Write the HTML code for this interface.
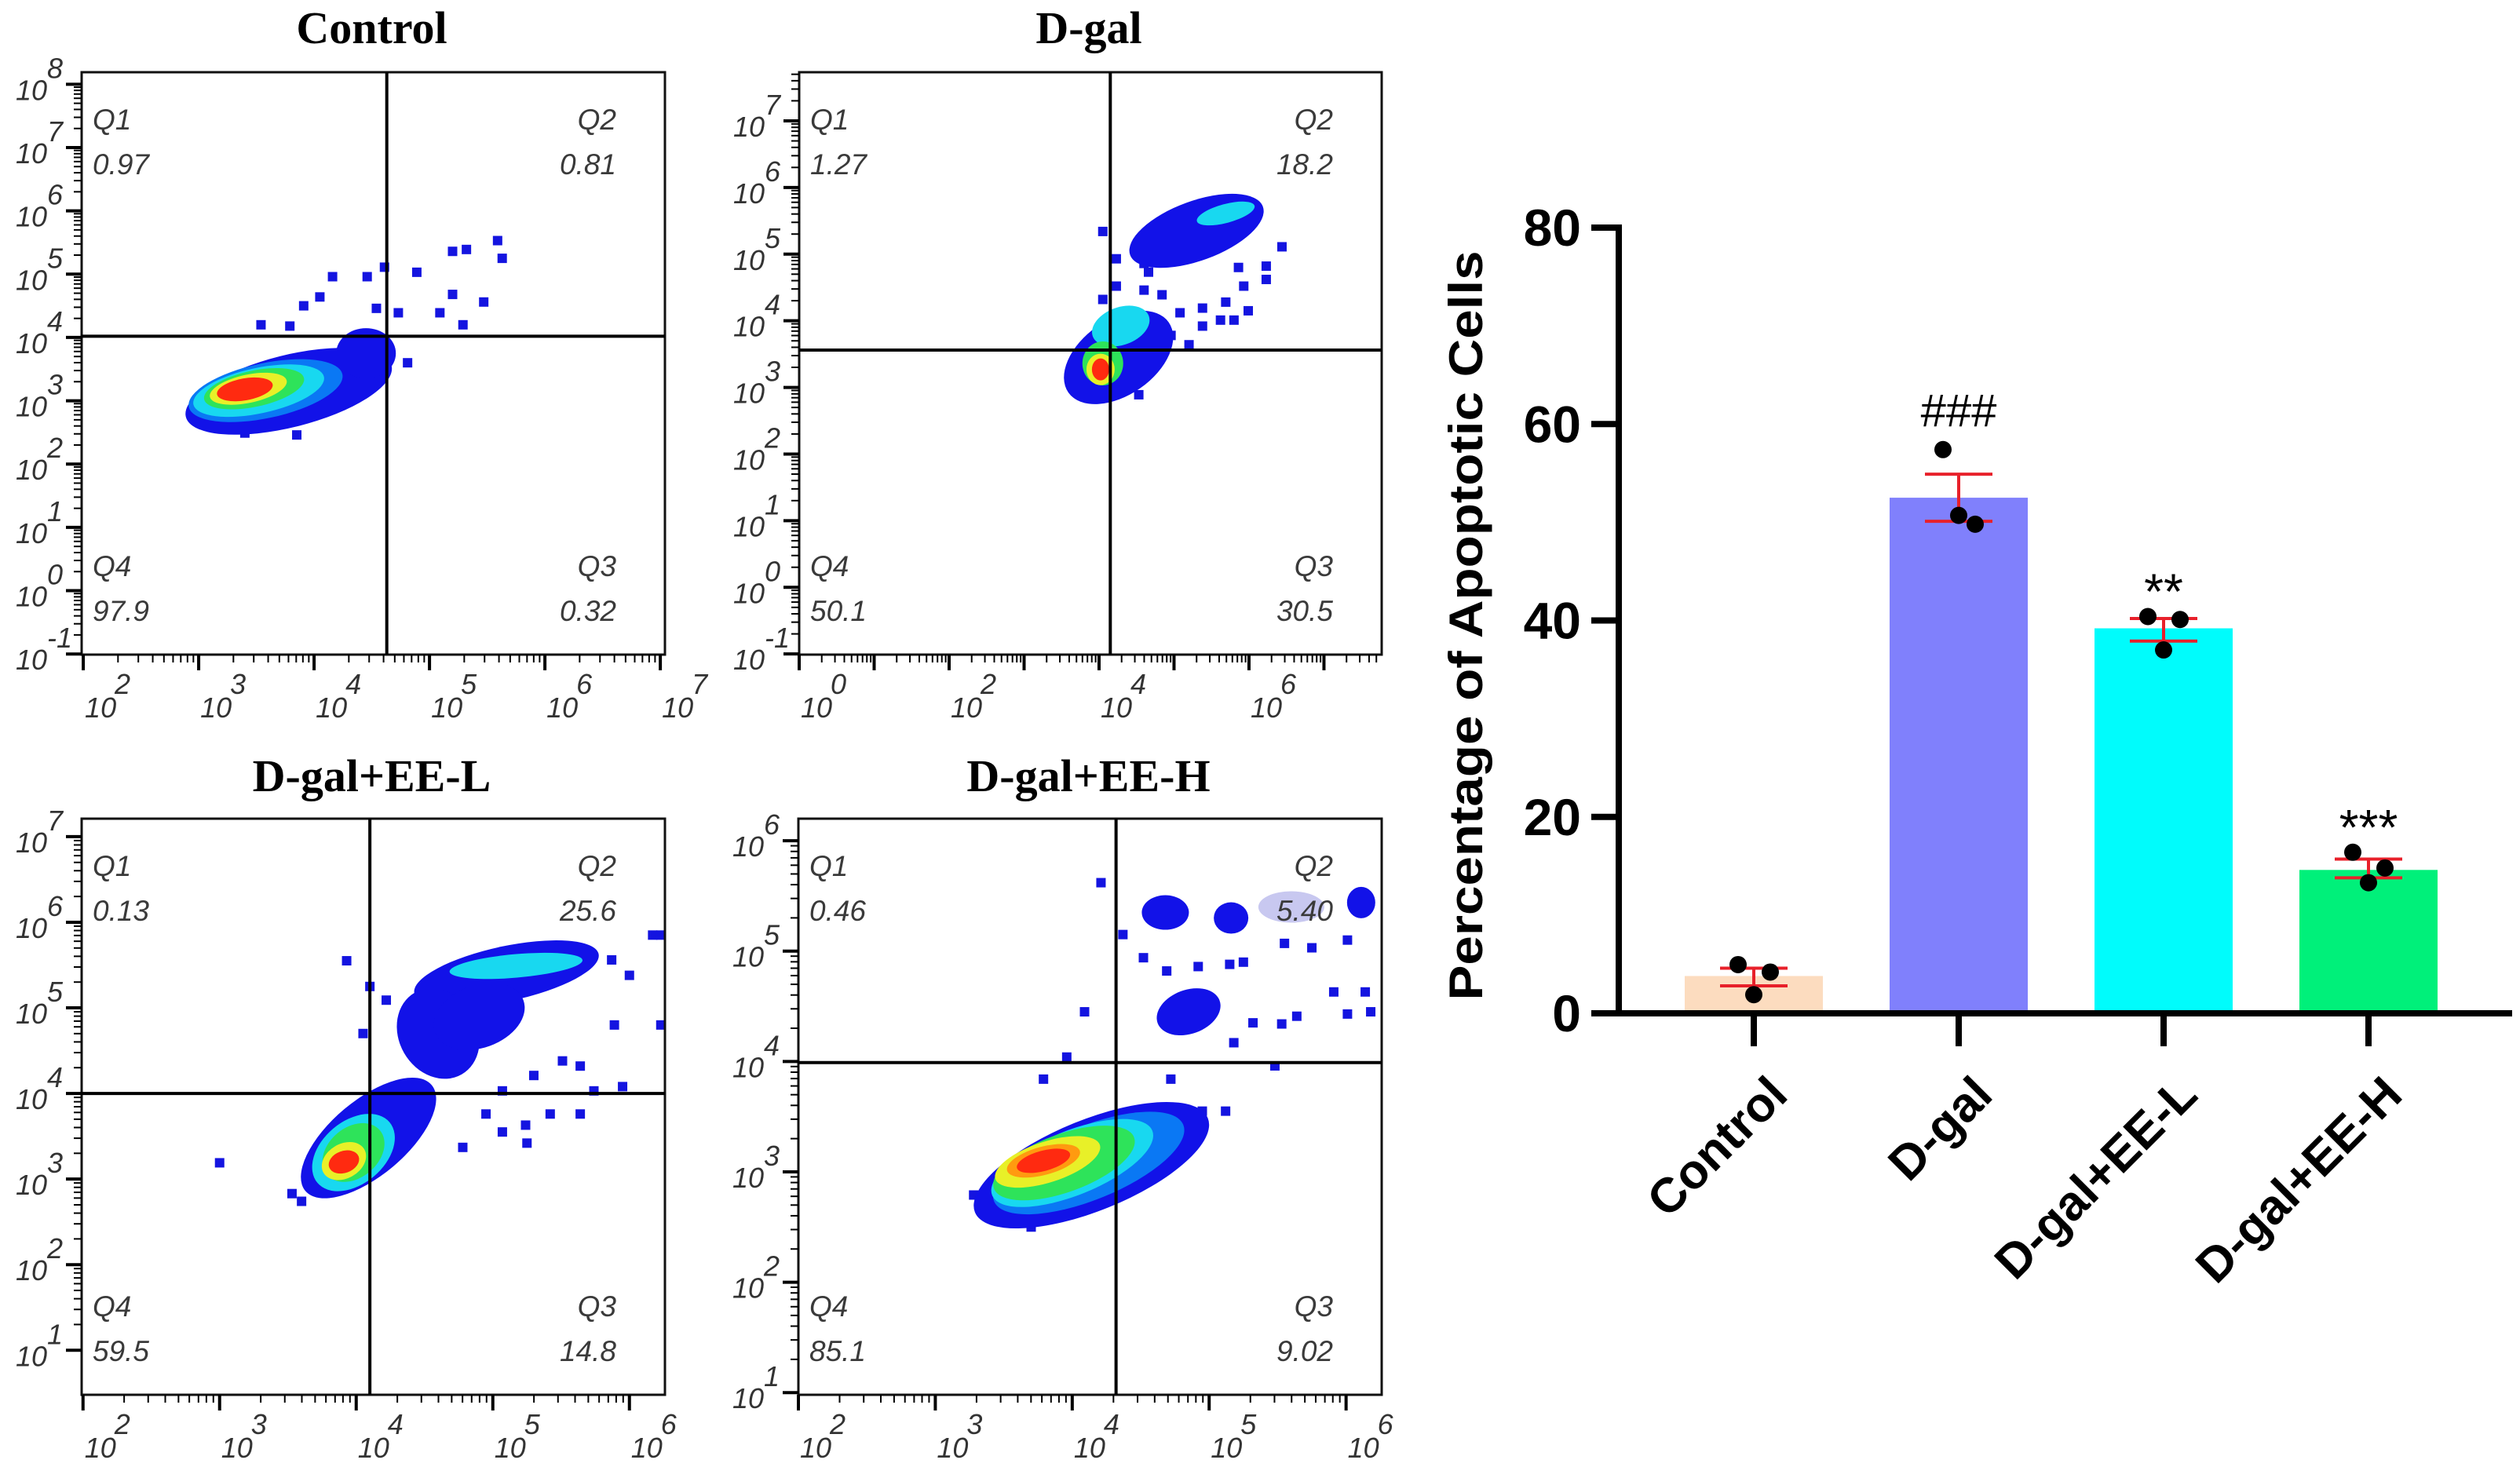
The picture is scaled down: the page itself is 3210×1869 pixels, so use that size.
<!DOCTYPE html>
<html><head><meta charset="utf-8"><style>
html,body{margin:0;padding:0;background:#fff;}
svg{display:block;}
</style></head><body>
<svg id="fig" xmlns="http://www.w3.org/2000/svg" width="3210" height="1869" viewBox="0 0 3210 1869">
<rect x="0" y="0" width="3210" height="1869" fill="#fff"/>
</svg>
<script>
// ===== Bar chart data =====
const groups = ["Control", "D-gal", "D-gal+EE-L", "D-gal+EE-H"];
const means = [3.8, 52.5, 39.2, 14.6];
const sdHigh = [4.6, 54.9, 40.2, 15.7];
const sdLow = [2.8, 50.1, 37.9, 13.8];
const pts1 = [4.96, 57.4, 40.4, 16.4];
const pts2 = [4.2, 49.8, 40.1, 14.8];
const pts3 = [1.9, 50.7, 37.0, 13.3];
const sigMarks = ["", "###", "**", "***"];
const yTicks = [0, 20, 40, 60, 80];
const barColors = ["#fcdcbf", "#8080fc", "#00fcfc", "#00f07a"];

// ===== Flow cytometry data (log10 units) =====
const panelTitles = ["Control", "D-gal", "D-gal+EE-L", "D-gal+EE-H"];
const q1Vals = ["0.97", "1.27", "0.13", "0.46"];
const q2Vals = ["0.81", "18.2", "25.6", "5.40"];
const q3Vals = ["0.32", "30.5", "14.8", "9.02"];
const q4Vals = ["97.9", "50.1", "59.5", "85.1"];
const gateX = [4.63, 4.15, 4.10, 4.32];
const gateY = [4.02, 3.56, 4.0, 3.99];
const xDecades = [[2,3,4,5,6,7],[0,1,2,3,4,5,6,7],[2,3,4,5,6],[2,3,4,5,6]];
const xLabelled = [[2,3,4,5,6,7],[0,2,4,6],[2,3,4,5,6],[2,3,4,5,6]];
const yDecades = [[-1,0,1,2,3,4,5,6,7,8],[-1,0,1,2,3,4,5,6,7],[1,2,3,4,5,6,7],[1,2,3,4,5,6]];
// density ellipses: [xLog, yLog, rx(px), ry(px), angle, colorLevel]
const dens1 = [[3.78,3.15,135,46,-14,0],[4.45,3.75,38,32,0,0],[3.58,3.16,100,35,-12,1],[3.52,3.16,85,29,-12,2],[3.48,3.19,65,23,-12,3],[3.43,3.19,50,18,-12,4],[3.40,3.18,36,14,-10,6]];
const dens2 = [[4.26,3.45,78,48,-35,0],[5.30,5.35,90,38,-20,0],[4.29,3.92,38,24,-20,2],[5.69,5.61,38,12,-15,2],[4.05,3.36,26,28,0,3],[4.02,3.27,18,20,0,4],[4.02,3.27,11,14,0,6]];
const dens3 = [[4.09,3.48,105,48,-40,0],[5.10,5.40,120,35,-12,0],[4.60,4.70,50,60,-30,0],[4.90,4.90,60,40,-20,0],[5.17,5.49,85,15,-5,2],[3.98,3.31,60,40,-40,2],[3.98,3.31,44,32,-40,3],[3.91,3.21,30,22,-30,4],[3.91,3.2,20,14,-20,6]];
const dens4 = [[4.14,3.06,160,58,-22,0],[4.68,5.35,30,22,0,0],[4.85,4.45,42,28,-20,0],[5.16,5.30,22,20,0,0],[6.11,5.44,18,20,0,0],[5.60,5.40,42,20,0,7],[4.12,3.08,130,47,-22,1],[4.0,3.08,110,41,-22,2],[3.94,3.08,95,37,-20,3],[3.82,3.09,70,26,-18,4],[3.79,3.10,48,18,-15,5],[3.79,3.10,35,13,-15,6]];
const dotsX1 = [5.59,5.63,5.20,5.32,4.89,4.61,4.46,4.16,5.47,5.20,5.09,5.29,4.73,4.54,4.05,3.91,3.54,3.79,4.81,3.85,3.40];
const dotsY1 = [5.53,5.25,5.36,5.39,5.03,5.11,4.96,4.96,4.56,4.68,4.39,4.20,4.39,4.46,4.64,4.50,4.20,4.18,3.60,2.46,2.49];
const dotsX2 = [4.60,4.84,5.08,5.38,5.69,5.99,5.80,5.62,5.38,4.96,5.20,4.66,4.23,4.05,4.05,6.23,6.23,6.44,5.86,5.93,4.53,4.23,4.60];
const dotsY2 = [4.46,4.39,4.12,4.19,4.28,4.15,4.01,4.01,3.92,3.78,3.64,4.73,4.52,4.32,5.34,4.62,4.82,5.11,4.80,4.52,2.89,4.93,4.86];
const dotsX3 = [3.93,4.10,4.05,4.22,6.23,6.17,6.23,6.00,5.87,5.89,5.64,5.95,5.74,5.42,5.24,5.25,5.07,5.64,4.95,4.78,3.00,3.53,3.60,5.30,5.51,5.07];
const dotsY3 = [5.55,5.25,4.70,5.09,5.85,5.85,4.80,5.38,5.56,4.80,4.32,4.08,4.03,3.76,3.63,3.42,3.55,3.76,3.76,3.37,3.19,2.83,2.74,4.21,4.38,4.03];
const dotsX4 = [4.21,4.37,4.52,4.69,4.92,5.15,5.25,5.55,5.75,6.01,5.91,6.14,6.01,6.18,5.64,5.32,5.53,5.48,5.18,4.09,3.96,3.79,4.95,5.12,4.72,4.59,3.70,3.28];
const dotsY4 = [5.62,5.15,4.94,4.82,4.86,4.88,4.90,5.07,5.03,5.10,4.63,4.63,4.43,4.45,4.41,4.35,4.34,3.96,4.17,4.45,4.04,3.84,3.55,3.55,3.84,2.97,2.50,2.79];

const densColors = ["#1212e8","#0a78f4","#18d8f0","#2ee35a","#e8f028","#ff9a10","#ff2a10","#c8c8f0"];
const boxes = [[104,92,847,834],[1018,92,1760,834],[104,1043,847,1777],[1017,1043,1760,1777]];
const xRange = [[1.986,7.04],[0,7.77],[1.99,6.26],[2.0,6.26]];
const yRange = [[-1.01,8.19],[-1.01,7.73],[0.48,7.21],[0.98,6.2]];
const titleY = [55,55,1008,1008];

const NS = "http://www.w3.org/2000/svg";
const svg = document.getElementById("fig");
function mk(tag, attrs, parent, txt){
  const e = document.createElementNS(NS, tag);
  for (const k in attrs) e.setAttribute(k, attrs[k]);
  if (txt !== undefined) e.textContent = txt;
  (parent || svg).appendChild(e);
  return e;
}

const densSets = [dens1, dens2, dens3, dens4];
const dotXs = [dotsX1, dotsX2, dotsX3, dotsX4];
const dotYs = [dotsY1, dotsY2, dotsY3, dotsY4];
const defs = mk("defs", {});
for (let p = 0; p < 4; p++) {
  const [L,T,R,B] = boxes[p];
  const sx = v => L + (v - xRange[p][0]) / (xRange[p][1] - xRange[p][0]) * (R - L);
  const sy = v => B - (v - yRange[p][0]) / (yRange[p][1] - yRange[p][0]) * (B - T);
  const g = mk("g", {});
  
  
  const cp = mk("clipPath", {id: "clip" + p}, defs);
  mk("rect", {x: L, y: T, width: R - L, height: B - T}, cp);
  const t = mk("text", {x: (L + R) / 2 - 2, y: titleY[p], "text-anchor": "middle", "font-family": "Liberation Serif, serif", "font-weight": "bold", "font-size": 58}, g, panelTitles[p]);
  
  
  const dg = mk("g", {"clip-path": "url(#clip" + p + ")"}, g);
  
  
  for (let i = 0; i < dotXs[p].length; i++) {
    const d = mk("rect", {x: sx(dotXs[p][i]) - 6, y: sy(dotYs[p][i]) - 6, width: 12, height: 12, fill: "#1414e0"}, dg);
    
    
  }
  densSets[p].forEach(c => {
    const cx = sx(c[0]), cy = sy(c[1]);
    const e = mk("ellipse", {cx: cx, cy: cy, rx: c[2], ry: c[3], fill: densColors[c[5]], transform: "rotate(" + c[4] + " " + cx + " " + cy + ")"}, dg);
    
    
  });
  const bx = mk("rect", {x: L, y: T, width: R - L, height: B - T, fill: "none", stroke: "#111", "stroke-width": 3}, g);
  
  
  const gx = sx(gateX[p]), gy = sy(gateY[p]);
  const vl = mk("line", {x1: gx, y1: T, x2: gx, y2: B, stroke: "#000", "stroke-width": 4}, g);
  
  
  const hl = mk("line", {x1: L, y1: gy, x2: R, y2: gy, stroke: "#000", "stroke-width": 4}, g);
  
  
  const qf = {"font-family": "Liberation Sans, sans-serif", "font-style": "italic", "font-size": 37, fill: "#3a3a3a"};
  const qs = [["Q1", L + 14, T + 73, "start"], [q1Vals[p], L + 14, T + 130, "start"],
              ["Q2", R - 62, T + 73, "end"], [q2Vals[p], R - 62, T + 130, "end"],
              ["Q4", L + 14, B - 100, "start"], [q4Vals[p], L + 14, B - 43, "start"],
              ["Q3", R - 62, B - 100, "end"], [q3Vals[p], R - 62, B - 43, "end"]];
  qs.forEach(q => {
    const a = Object.assign({x: q[1], y: q[2], "text-anchor": q[3]}, qf);
    const te = mk("text", a, g, q[0]);
    
    
  });
  const tf = {"font-family": "Liberation Sans, sans-serif", "font-style": "italic", "font-size": 36, fill: "#333"};
  const ya = mk("g", {}, g);
  
  
  yDecades[p].forEach(dd => {
    for (let k = 1; k <= 9; k++) {
      const v = dd + Math.log10(k);
      if (v < yRange[p][0] || v > yRange[p][1]) continue;
      const y = sy(v);
      mk("line", {x1: L - (k === 1 ? 20 : 10), y1: y, x2: L, y2: y, stroke: "#000", "stroke-width": k === 1 ? 4 : 2}, ya);
    }
    const y = sy(dd);
    const lt = mk("text", Object.assign({x: L - 44, y: y + 20, "text-anchor": "end"}, tf), ya, "10");
    
    
    mk("text", Object.assign({x: L - 44, y: y - 8, "text-anchor": "start"}, tf), ya, String(dd));
  });
  const xa = mk("g", {}, g);
  
  
  xDecades[p].forEach(dd => {
    for (let k = 1; k <= 9; k++) {
      const v = dd + Math.log10(k);
      if (v < xRange[p][0] - 0.01 || v > xRange[p][1]) continue;
      const x = sx(v);
      mk("line", {x1: x, y1: B, x2: x, y2: B + (k === 1 ? 20 : 10), stroke: "#000", "stroke-width": k === 1 ? 4 : 2}, xa);
    }
  });
  xLabelled[p].forEach(dd => {
    const x = sx(dd);
    const lt = mk("text", Object.assign({x: x + 2, y: B + 80, "text-anchor": "start"}, tf), xa, "10");
    
    
    mk("text", Object.assign({x: x + 40, y: B + 50, "text-anchor": "start"}, tf), xa, String(dd));
  });
}

// ===== Bar chart =====
const AX = 2062, Y0 = 1291, Y80 = 290, XEND = 3200;
const yS = v => Y0 - v / 80 * (Y0 - Y80);
const xC = i => 2234 + i * 261;
const BW = 176;
const bc = mk("g", {});


const bf = "Liberation Sans, Arial, sans-serif";
groups.forEach((gname, i) => {
  const r = mk("rect", {x: xC(i) - BW / 2, y: yS(means[i]), width: BW, height: Y0 - yS(means[i]), fill: barColors[i]}, bc);
  
  
});
const yAx = mk("line", {x1: AX, y1: Y80 - 4, x2: AX, y2: Y0 + 4, stroke: "#000", "stroke-width": 8}, bc);


const xAx = mk("line", {x1: AX - 4, y1: Y0, x2: XEND, y2: Y0, stroke: "#000", "stroke-width": 8}, bc);


yTicks.forEach(v => {
  mk("line", {x1: AX - 35, y1: yS(v), x2: AX, y2: yS(v), stroke: "#000", "stroke-width": 8}, bc);
  const t = mk("text", {x: AX - 48, y: yS(v) + 23, "text-anchor": "end", "font-family": bf, "font-weight": "bold", "font-size": 66}, bc, String(v));
  
  
});
const yl = mk("text", {x: 0, y: 0, "text-anchor": "middle", "font-family": bf, "font-weight": "bold", "font-size": 60, textLength: 955, lengthAdjust: "spacingAndGlyphs", transform: "translate(1888 797) rotate(-90)"}, bc, "Percentage of Apoptotic Cells");


groups.forEach((gname, i) => {
  const x = xC(i);
  mk("line", {x1: x, y1: Y0, x2: x, y2: Y0 + 42, stroke: "#000", "stroke-width": 8}, bc);
  const t = mk("text", {x: 0, y: 0, "text-anchor": "end", "font-family": bf, "font-weight": "bold", "font-size": 62, transform: "translate(" + (x + 46) + " 1398) rotate(-45)"}, bc, gname);
  
  
  const eg = mk("g", {stroke: "#e8202a", "stroke-width": 4}, bc);
  
  
  mk("line", {x1: x, y1: yS(sdHigh[i]), x2: x, y2: yS(sdLow[i])}, eg);
  mk("line", {x1: x - 43, y1: yS(sdHigh[i]), x2: x + 43, y2: yS(sdHigh[i])}, eg);
  mk("line", {x1: x - 43, y1: yS(sdLow[i]), x2: x + 43, y2: yS(sdLow[i])}, eg);
  [[pts1[i], -20], [pts2[i], 21], [pts3[i], 0]].forEach(pp => {
    const c = mk("circle", {cx: x + pp[1], cy: yS(pp[0]), r: 11, fill: "#000"}, bc);
    
    
  });
  if (sigMarks[i]) {
    const top = Math.max(sdHigh[i], pts1[i], pts2[i], pts3[i]);
    const isHash = sigMarks[i].indexOf('#') >= 0;
    const s = mk("text", {x: x, y: yS(top) - (isHash ? 30 : 10), "text-anchor": "middle", "font-family": bf, "font-size": isHash ? 58 : 64}, bc, sigMarks[i]);
    
    
  }
});
</script>
</body></html>
